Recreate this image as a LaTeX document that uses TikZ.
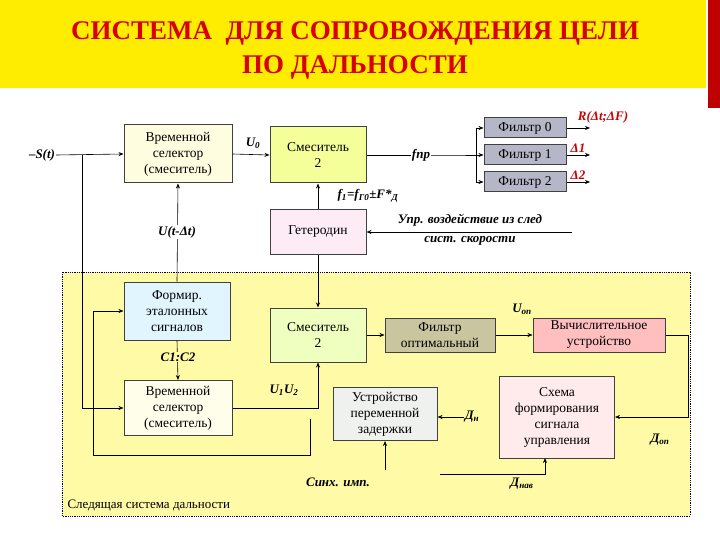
\documentclass[tikz,border=0pt]{standalone}
\usepackage{fontspec}
\setmainfont{Liberation Serif}
\usetikzlibrary{arrows.meta}
\begin{document}
\begin{tikzpicture}[x=1pt,y=-1pt,
  box/.style={draw=black!75,line width=1pt,align=center,font=\rmfamily\fontsize{13.5}{16}\selectfont,inner sep=1pt},
  lab/.style={font=\rmfamily\bfseries\itshape\fontsize{13}{15}\selectfont,inner sep=1pt},
  rlab/.style={lab,text=red!80!black},
  ar/.style={-{Stealth[length=5pt,width=4pt]},line width=0.6pt},
  ln/.style={line width=0.6pt}]
\useasboundingbox (0,0) rectangle (720,540);
\fill[white] (0,0) rectangle (720,540);
\fill[yellow!95!orange] (0,0) rectangle (706,88);
\fill[red!75!black] (708,0) rectangle (720,108);
\node[text=red!85!black,font=\rmfamily\bfseries\fontsize{27}{34}\selectfont,align=center] (title) at (355,50) {СИСТЕМА \ ДЛЯ СОПРОВОЖДЕНИЯ ЦЕЛИ\\ПО ДАЛЬНОСТИ};
\draw[densely dotted,fill=yellow!35,line width=0.8pt] (62,272) rectangle (690,516);
\node[anchor=west,font=\rmfamily\fontsize{13}{14}\selectfont] (sys) at (64,506) {Следящая система дальности};
\node[box,fill=yellow!12,minimum width=108,minimum height=58] (ts1) at (178,154) {Временной\\селектор\\(смеситель)};
\node[box,fill=lime!45!yellow!40,minimum width=96,minimum height=56] (mx1) at (318,155) {Смеситель\\2};
\node[box,fill=magenta!8,minimum width=96,minimum height=45] (het) at (318,232) {Гетеродин};
\node[box,fill=blue!15!gray!50,minimum width=82,minimum height=20] (f0) at (525,128) {Фильтр 0};
\node[box,fill=blue!15!gray!50,minimum width=82,minimum height=20] (f1) at (525,155) {Фильтр 1};
\node[box,fill=blue!15!gray!50,minimum width=82,minimum height=20] (f2) at (525,182) {Фильтр 2};
\node[box,fill=cyan!12,minimum width=106,minimum height=58] (form) at (177,311) {Формир.\\эталонных\\сигналов};
\node[box,fill=lime!25,minimum width=96,minimum height=54] (mx2) at (318,335) {Смеситель\\2};
\node[box,fill=olive!40!gray!50,minimum width=110,minimum height=34] (fopt) at (440,335) {Фильтр\\оптимальный};
\node[box,fill=red!25,minimum width=132,minimum height=34] (calc) at (599,335) {Вычислительное\\устройство};
\node[box,fill=yellow!8,minimum width=108,minimum height=55] (ts2) at (178,408) {Временной\\селектор\\(смеситель)};
\node[box,fill=green!6!gray!12,minimum width=104,minimum height=53] (del) at (385,414) {Устройство\\переменной\\задержки};
\node[box,fill=red!8,minimum width=115,minimum height=82] (ctl) at (557,417) {Схема\\формирования\\сигнала\\управления};
\node[lab] (st) at (42,155) {–S(t)};
\node[lab] (u0) at (253,143) {U\textsubscript{0}};
\node[lab] (fpr) at (421,155) {fпр};
\node[rlab] (rl) at (603,117) {R(Δt;ΔF)};
\node[rlab] (d1) at (578,148) {Δ1};
\node[rlab] (d2) at (578,175) {Δ2};
\node[lab] (ff) at (368,196) {f\textsubscript{1}=f\textsubscript{Г0}±F*\textsubscript{Д}};
\node[lab,align=center,font=\rmfamily\bfseries\itshape\fontsize{13}{19}\selectfont] (upr) at (470,230) {Упр. воздействие из след\\сист. скорости};
\node[lab] (u12) at (284,390) {U\textsubscript{1}U\textsubscript{2}};
\node[lab] (uop) at (522,309) {U\textsubscript{оп}};
\node[lab] (dn) at (472,417) {Д\textsubscript{н}};
\node[lab] (dop) at (660,440) {Д\textsubscript{оп}};
\node[lab] (sync) at (338,482) {Синх. имп.};
\node[lab] (dnav) at (522,484) {Д\textsubscript{нав}};
\coordinate (sp) at (82,155);
\coordinate (spl) at (456,155);
\coordinate (loopEnd) at (310,419);
\coordinate (uprE) at (572,232);
\coordinate (f0o) at (590,128);
\coordinate (f1o) at (590,155);
\coordinate (f2o) at (590,182);
\coordinate (navS) at (440,474);
\draw[ar] (st.east) -- (ts1.west);
\draw[ar] (ts1.east) -- (mx1.west);
\draw[ln] (mx1.east) -- (fpr.west);
\draw[ln] (fpr.east) -- (spl) -- (476,155);
\draw[ln] (476,128) -- (476,182);
\draw[ar] (476,128) -- (f0.west);
\draw[ar] (476,155) -- (f1.west);
\draw[ar] (476,182) -- (f2.west);
\draw[ar] (f0.east) -- (f0o);
\draw[ar] (f1.east) -- (f1o);
\draw[ar] (f2.east) -- (f2o);
\draw[ar] (het.north) -- (mx1.south);
\draw[ar] (uprE) -- (het.east);
\draw[ar] (form.north) -- (ts1.south);
\draw[ar] (het.south) -- (mx2.north);
\draw[ar] (sp) |- (ts2.west);
\draw[ar] (loopEnd) -- (310,455) -- (93,455) |- (form.west);
\draw[ar] (form.south) -- (ts2.north);
\draw[ar] (ts2.east) -| (mx2.south);
\draw[ar] (mx2.east) -- (fopt.west);
\draw[ar] (fopt.east) -- (calc.west);
\draw[ar] (calc.east) -- (688,335) |- (ctl.east);
\draw[ar] (navS) -- (545,474) -- (545,458);
\draw[ar] (385,470) -- (del.south);
\draw[ar] (dn.west) -- (del.east |- dn.west);
\node[lab,fill=white] (udt) at (177,232) {U(t-Δt)};
\node[lab,fill=yellow!35] (cc) at (178,357) {C1:C2};
\end{tikzpicture}
\end{document}
